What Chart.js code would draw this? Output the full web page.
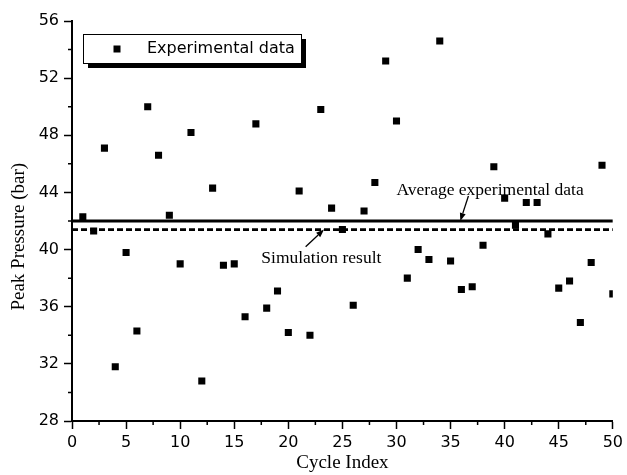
<!DOCTYPE html>
<html>
<head>
<meta charset="utf-8">
<script src="https://cdn.jsdelivr.net/npm/chart.js@4.4.1/dist/chart.umd.min.js"></script>
<style>
  html, body { margin: 0; padding: 0; background: #fff; }
  #wrap { width: 627px; height: 475px; }
</style>
</head>
<body>
<div id="wrap"><canvas id="grafico_pressao" width="627" height="475"></canvas></div>
<script>
// cycle number and measured peak pressure (bar)
const ciclos = [1, 2, 3, 4, 5, 6, 7, 8, 9, 10,
  11, 12, 13, 14, 15, 16, 17, 18, 19, 20,
  21, 22, 23, 24, 25, 26, 27, 28, 29, 30,
  31, 32, 33, 34, 35, 36, 37, 38, 39, 40,
  41, 42, 43, 44, 45, 46, 47, 48, 49, 50];
const pressaoPico = [42.3, 41.3, 47.1, 31.8, 39.8, 34.3, 50.0, 46.6, 42.4, 39.0,
  48.2, 30.8, 44.3, 38.9, 39.0, 35.3, 48.8, 35.9, 37.1, 34.2,
  44.1, 34.0, 49.8, 42.9, 41.4, 36.1, 42.7, 44.7, 53.2, 49.0,
  38.0, 40.0, 39.3, 54.6, 39.2, 37.2, 37.4, 40.3, 45.8, 43.6,
  41.7, 43.3, 43.3, 41.1, 37.3, 37.8, 34.9, 39.1, 45.9, 36.9];

// horizontal reference levels
const limitesX = [0, 50];
const mediaExperimental = 42.0;
const resultadoSimulacao = 41.4;

const ticksX = [0, 5, 10, 15, 20, 25, 30, 35, 40, 45, 50];
const ticksY = [28, 32, 36, 40, 44, 48, 52, 56];

const fonteSans = "'DejaVu Sans', sans-serif";
const fonteSerif = "'Liberation Serif', 'Times New Roman', serif";

// small ticks between the labelled ones
const ticksMenores = {
  id: 'ticksMenores',
  afterDraw(chart) {
    const ctx = chart.ctx;
    const x = chart.scales.x, y = chart.scales.y;
    ctx.save();
    ctx.strokeStyle = '#000';
    ctx.lineWidth = 1.5;
    ctx.beginPath();
    for (let i = 0; i < ticksX.length - 1; i++) {
      const px = x.getPixelForValue((ticksX[i] + ticksX[i + 1]) / 2);
      ctx.moveTo(px, y.bottom);
      ctx.lineTo(px, y.bottom + 4);
    }
    for (let i = 0; i < ticksY.length - 1; i++) {
      const py = y.getPixelForValue((ticksY[i] + ticksY[i + 1]) / 2);
      ctx.moveTo(x.left, py);
      ctx.lineTo(x.left - 4, py);
    }
    ctx.stroke();
    ctx.restore();
  }
};

function seta(ctx, x0, y0, x1, y1) {
  const ang = Math.atan2(y1 - y0, x1 - x0);
  const tam = 8, larg = 3;
  const bx = x1 - tam * Math.cos(ang), by = y1 - tam * Math.sin(ang);
  ctx.beginPath();
  ctx.moveTo(x0, y0);
  ctx.lineTo(bx, by);
  ctx.stroke();
  ctx.beginPath();
  ctx.moveTo(x1, y1);
  ctx.lineTo(bx + larg * Math.sin(ang), by - larg * Math.cos(ang));
  ctx.lineTo(bx - larg * Math.sin(ang), by + larg * Math.cos(ang));
  ctx.closePath();
  ctx.fill();
}

// boxed legend with drop shadow, y title, and the two labels with arrows
const anotacoes = {
  id: 'anotacoes',
  afterDraw(chart) {
    const ctx = chart.ctx;
    const x = chart.scales.x, y = chart.scales.y;
    const area = chart.chartArea;
    ctx.save();

    // legend
    const lx = area.left + 11, ly = area.top + 13, lw = 218, lh = 29;
    ctx.fillStyle = '#000';
    ctx.fillRect(lx + 5, ly + 5, lw, lh);
    ctx.fillStyle = '#fff';
    ctx.fillRect(lx, ly, lw, lh);
    ctx.strokeStyle = '#000';
    ctx.lineWidth = 1;
    ctx.strokeRect(lx + 0.5, ly + 0.5, lw, lh);
    ctx.fillStyle = '#000';
    ctx.fillRect(lx + 30.5, ly + 11.5, 7, 7);
    ctx.font = '16px ' + fonteSans;
    ctx.textBaseline = 'middle';
    ctx.textAlign = 'left';
    ctx.fillText('Experimental data', lx + 64, ly + 15);

    // y axis title, sitting a bit below the middle of the axis
    ctx.save();
    ctx.translate(19, y.getPixelForValue(40.9));
    ctx.rotate(-Math.PI / 2);
    ctx.font = '19px ' + fonteSerif;
    ctx.textAlign = 'center';
    ctx.fillText('Peak Pressure (bar)', 0, 0);
    ctx.restore();

    // text labels
    ctx.font = '17.5px ' + fonteSerif;
    ctx.textBaseline = 'alphabetic';
    ctx.textAlign = 'left';
    ctx.fillText('Average experimental data', x.getPixelForValue(30.0), y.getPixelForValue(43.82));
    ctx.fillText('Simulation result', x.getPixelForValue(17.5), y.getPixelForValue(39.08));

    ctx.lineWidth = 1.3;
    seta(ctx, x.getPixelForValue(36.65), y.getPixelForValue(43.75),
      x.getPixelForValue(35.9), y.getPixelForValue(mediaExperimental));
    seta(ctx, x.getPixelForValue(21.6), y.getPixelForValue(40.2),
      x.getPixelForValue(23.3), y.getPixelForValue(resultadoSimulacao));
    ctx.restore();
  }
};

const pontos = ciclos.map((c, i) => ({ x: c, y: pressaoPico[i] }));

new Chart(document.getElementById('grafico_pressao'), {
  type: 'scatter',
  data: {
    datasets: [
      {
        label: 'Experimental data',
        data: pontos,
        pointStyle: 'rect',
        pointRadius: 5,
        pointHoverRadius: 5,
        backgroundColor: '#000',
        borderColor: '#000',
        borderWidth: 0,
        clip: 0,
      },
      {
        label: 'Average experimental data',
        data: limitesX.map(v => ({ x: v, y: mediaExperimental })),
        showLine: true,
        borderColor: '#000',
        borderWidth: 3,
        pointRadius: 0,
      },
      {
        label: 'Simulation result',
        data: limitesX.map(v => ({ x: v, y: resultadoSimulacao })),
        showLine: true,
        borderColor: '#000',
        borderWidth: 2.7,
        borderDash: [6, 3],
        pointRadius: 0,
      },
    ],
  },
  options: {
    responsive: false,
    animation: false,
    layout: { padding: { left: 0, right: 12, top: 21, bottom: 0 } },
    plugins: {
      legend: { display: false },
      tooltip: { enabled: false },
    },
    scales: {
      x: {
        type: 'linear',
        min: 0,
        max: 50,
        afterBuildTicks: s => { s.ticks = ticksX.map(v => ({ value: v })); },
        afterFit: s => { s.height = 54; },
        grid: { drawOnChartArea: false, drawTicks: true, tickLength: 8, tickColor: '#000', tickWidth: 1.5 },
        border: { display: true, color: '#000', width: 2 },
        ticks: { color: '#000', padding: 4, maxRotation: 0, font: { family: fonteSans, size: 16 } },
        title: {
          display: true,
          text: 'Cycle Index',
          color: '#000',
          padding: { top: 0, bottom: 1 },
          font: { family: fonteSerif, size: 19 },
        },
      },
      y: {
        type: 'linear',
        min: 28,
        max: 56,
        afterBuildTicks: s => { s.ticks = ticksY.map(v => ({ value: v })); },
        afterFit: s => { s.width = 72; },
        grid: { drawOnChartArea: false, drawTicks: true, tickLength: 8, tickColor: '#000', tickWidth: 1.5 },
        border: { display: true, color: '#000', width: 2 },
        ticks: { color: '#000', padding: 5, font: { family: fonteSans, size: 16 } },
      },
    },
  },
  plugins: [ticksMenores, anotacoes],
});
</script>
</body>
</html>
